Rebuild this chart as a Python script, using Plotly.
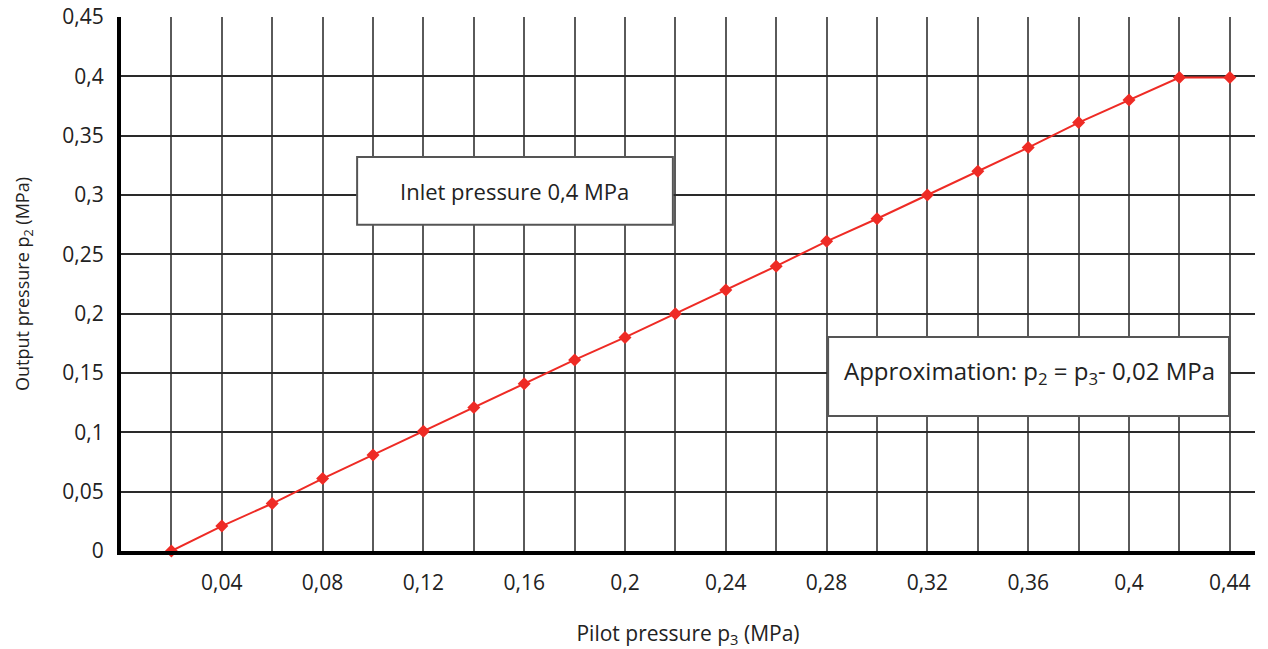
import plotly.graph_objects as go

# pilot pressure p3 (MPa) and output pressure p2 (MPa)
pilot = [0.02, 0.04, 0.06, 0.08, 0.10, 0.12, 0.14, 0.16, 0.18, 0.20, 0.22,
         0.24, 0.26, 0.28, 0.30, 0.32, 0.34, 0.36, 0.38, 0.40, 0.42, 0.44]
output = [0.0, 0.021, 0.04, 0.061, 0.081, 0.101, 0.121, 0.141, 0.161, 0.18, 0.2,
          0.22, 0.24, 0.261, 0.28, 0.3, 0.32, 0.34, 0.361, 0.38, 0.399, 0.399]

x_tickvals = [0.02, 0.04, 0.06, 0.08, 0.10, 0.12, 0.14, 0.16, 0.18, 0.20, 0.22,
              0.24, 0.26, 0.28, 0.30, 0.32, 0.34, 0.36, 0.38, 0.40, 0.42, 0.44]
x_ticktext = ["", "0,04", "", "0,08", "", "0,12", "", "0,16", "", "0,2", "",
              "0,24", "", "0,28", "", "0,32", "", "0,36", "", "0,4", "", "0,44"]
y_tickvals = [0, 0.05, 0.1, 0.15, 0.2, 0.25, 0.3, 0.35, 0.4, 0.45]
y_ticktext = ["0", "0,05", "0,1", "0,15", "0,2", "0,25", "0,3", "0,35", "0,4", "0,45"]

FONT = "Open Sans"
RED = "#ee2b25"

fig = go.Figure()

fig.add_trace(
    go.Scatter(
        x=pilot,
        y=output,
        mode="lines+markers",
        line=dict(color=RED, width=2),
        marker=dict(symbol="diamond", size=10, color=RED),
        showlegend=False,
        cliponaxis=False,
    ))

# text boxes
boxes = [
    dict(x0=0.0937, x1=0.219, y0=0.275, y1=0.332, xt=0.156, yt=0.303,
         text="Inlet pressure 0,4 MPa", size=22),
    dict(x0=0.2806, x1=0.4397, y0=0.1138, y1=0.1804, xt=0.3607, yt=0.151,
         text="Approximation: p<sub>2</sub> = p<sub>3</sub>- 0,02 MPa", size=24),
]
for b in boxes:
    fig.add_shape(type="rect", xref="x", yref="y",
                  x0=b["x0"], x1=b["x1"], y0=b["y0"], y1=b["y1"],
                  line=dict(color="#555555", width=2), fillcolor="white",
                  layer="above")
    fig.add_annotation(x=b["xt"], y=b["yt"], xref="x", yref="y",
                       text=b["text"], showarrow=False,
                       font=dict(family=FONT, size=b["size"], color="#222222"))

fig.update_layout(
    width=1268,
    height=649,
    paper_bgcolor="white",
    plot_bgcolor="white",
    margin=dict(l=121, r=13, t=17, b=98),
    font=dict(family=FONT, size=21, color="#222222"),
    xaxis=dict(
        range=[0, 0.45],
        tickmode="array",
        tickvals=x_tickvals,
        ticktext=x_ticktext,
        showgrid=True,
        gridcolor="#5a5a5a",
        gridwidth=2,
        zeroline=False,
        showline=True,
        linecolor="black",
        linewidth=4,
        ticks="",
        automargin=False,
        ticklabelstandoff=10,
        title=dict(text="Pilot pressure p<sub>3</sub> (MPa)",
                   font=dict(size=21), standoff=32),
    ),
    yaxis=dict(
        range=[0, 0.45],
        tickmode="array",
        tickvals=y_tickvals,
        ticktext=y_ticktext,
        showgrid=True,
        gridcolor="#2a2a2a",
        gridwidth=2,
        zeroline=False,
        showline=True,
        linecolor="black",
        linewidth=4,
        ticks="",
        automargin=False,
        ticklabelstandoff=9,
        ticklabeloverflow="allow",
        title=dict(text="Output pressure p<sub>2</sub> (MPa)",
                   font=dict(size=18), standoff=29),
    ),
)

# drop the default 8px body margin so the figure sits at the page corner
fig.write_html("out.html", config={"displayModeBar": False},
               post_script="document.body.style.margin = '0';")
